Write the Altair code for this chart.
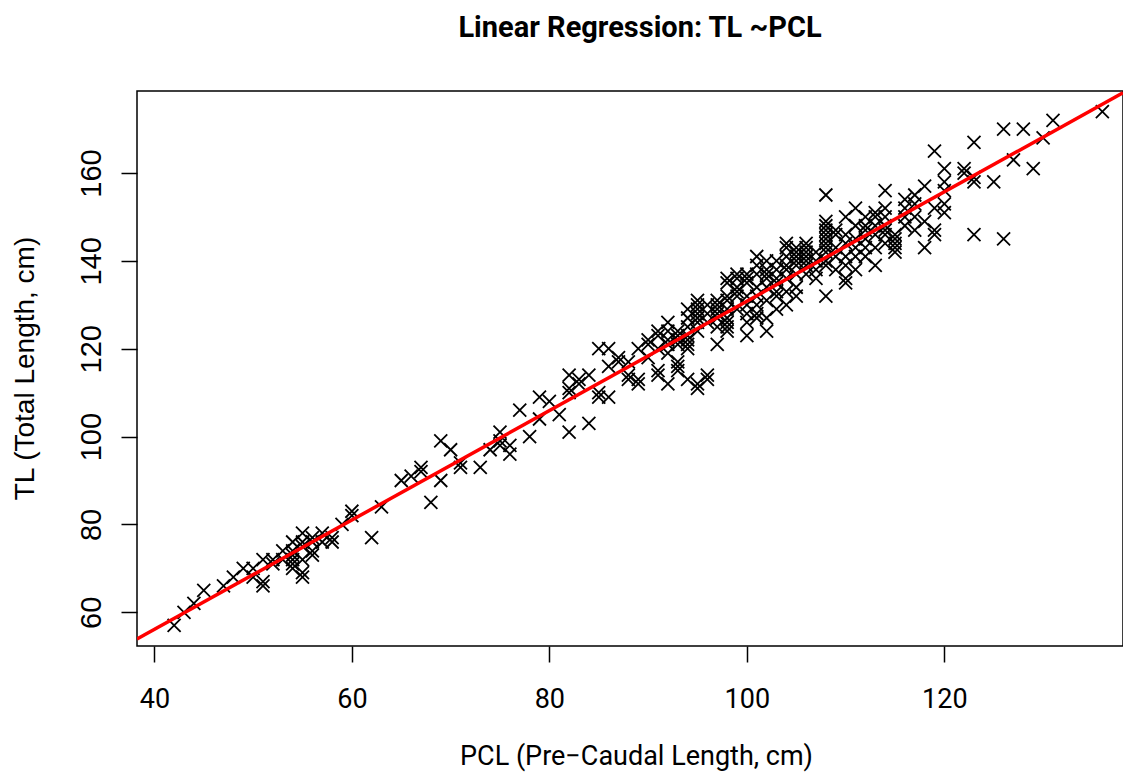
import altair as alt
import pandas as pd

pcl_levels = [42, 43, 44, 45, 47, 48, 49, 50, 51, 52, 53, 54, 55, 56, 57, 58, 59, 60,
              62, 63, 65, 66, 67, 68, 69, 70, 71, 73, 74, 75, 76, 77, 78, 79, 80, 81,
              82, 83, 84, 85, 86, 87, 88, 89, 90, 91, 92, 93, 94, 95, 96, 97, 98, 99,
              100, 101, 102, 103, 104, 105, 106, 107, 108, 109, 110, 111, 112, 113,
              114, 115, 116, 117, 118, 119, 120, 122, 123, 125, 126, 127, 128, 129,
              130, 131, 136]

tl_by_pcl = [
    [57], [60], [62], [65], [66], [68], [70], [70, 68], [67, 66, 72], [72, 71],
    [74, 72], [72, 70, 71, 76, 74, 73], [78, 75, 69, 68, 76, 72], [77, 73, 74, 76],
    [78, 76], [76, 77], [80], [83, 82],
    [77], [84], [90], [91], [93, 92], [85], [90, 99], [97], [94, 93], [93], [97],
    [101, 99, 98], [98, 96], [106], [100], [109, 104], [108], [105],
    [114, 111, 101, 110], [112, 113], [114, 103], [110, 109, 120], [109, 116, 120],
    [118, 117], [117, 114, 113], [112, 113, 120], [122, 121, 118],
    [124, 120, 115, 123, 114], [126, 121, 122, 112, 119, 124],
    [123, 122, 116, 115, 121, 124, 117], [129, 121, 113, 123, 122, 125, 127, 120],
    [131, 129, 126, 128, 111, 112, 130, 124, 127], [113, 114, 128, 126, 130],
    [130, 121, 127, 128, 129, 125, 131], [125, 124, 136, 131, 135, 132, 127, 129, 126],
    [137, 129, 132, 136, 133, 134],
    [135, 130, 128, 123, 137, 136, 132, 126], [141, 132, 128, 139, 134, 137, 130, 127],
    [137, 134, 127, 124, 138, 136, 140, 131], [135, 129, 132, 138, 136, 140, 133],
    [130, 144, 143, 133, 136, 139, 138, 141], [142, 140, 137, 134, 132, 141, 139, 143],
    [143, 142, 137, 139, 140, 141, 144], [140, 138, 142, 136],
    [155, 148, 149, 147, 146, 145, 143, 142, 140, 139, 132, 144],
    [143, 141, 146, 138, 147], [146, 150, 144, 136, 135, 141, 139],
    [138, 152, 141, 148, 145, 143], [148, 147, 143, 145, 150, 141],
    [148, 143, 139, 146, 150, 151], [152, 150, 156, 146, 148, 144, 147],
    [146, 143, 142, 145, 144], [154, 152, 148, 150], [155, 150, 147, 153],
    [157, 143, 149], [165, 147, 146, 152], [161, 158, 153, 151, 156],
    [160, 161], [159, 158, 146, 167], [158], [170, 145], [163], [170], [161],
    [168], [172], [174],
]

x_ticks = [40, 60, 80, 100, 120]
y_ticks = [60, 80, 100, 120, 140, 160]

rows = []
for p, tls in zip(pcl_levels, tl_by_pcl):
    for t in tls:
        rows.append({"PCL": p, "TL": t})
df = pd.DataFrame(rows)

x_dom = [38.24, 138.09]
y_dom = [52.32, 178.68]
x_scale = alt.Scale(domain=x_dom, zero=False, nice=False)
y_scale = alt.Scale(domain=y_dom, zero=False, nice=False)

X_SHAPE = "M-1,-1L1,1M-1,1L1,-1"

x_axis = alt.Axis(
    values=x_ticks, title="PCL (Pre\u2212Caudal Length, cm)", grid=False, domain=False,
    tickSize=16, tickWidth=1.5, tickColor="black",
    labelFont="Roboto", labelFontSize=27, labelColor="black",
    labelBaseline="alphabetic", labelPadding=45, labelFlush=False, labelOverlap=False,
    titleFont="Roboto", titleFontSize=27, titleFontWeight="normal", titleColor="black",
    titleBaseline="alphabetic", titleAlign="center", titleX=499, titleY=118,
)
y_axis = alt.Axis(
    values=y_ticks, title="TL (Total Length, cm)", grid=False, domain=False,
    tickSize=16, tickWidth=1.5, tickColor="black",
    labelFont="Liberation Sans", labelFontSize=29, labelColor="black",
    labelAngle=270, labelAlign="center", labelBaseline="alphabetic",
    labelPadding=21, labelFlush=False, labelOverlap=False,
    titleFont="Liberation Sans", titleFontSize=28, titleFontWeight="normal",
    titleColor="black", titleAngle=270, titleBaseline="alphabetic",
    titleAlign="center", titleX=-104, titleY=277,
)

points = alt.Chart(df).mark_point(
    shape=X_SHAPE, size=169, filled=False, color="black", strokeWidth=1.8, opacity=1
).encode(
    x=alt.X("PCL:Q", scale=x_scale, axis=x_axis),
    y=alt.Y("TL:Q", scale=y_scale, axis=y_axis),
)

line = alt.Chart(df).transform_regression(
    "PCL", "TL", extent=x_dom
).mark_line(color="red", strokeWidth=3.5, clip=True).encode(
    x=alt.X("PCL:Q", scale=x_scale),
    y=alt.Y("TL:Q", scale=y_scale),
)

chart = alt.layer(points, line).properties(
    width=986,
    height=555,
    autosize="none",
    background="white",
    padding={"left": 129, "top": 83, "right": 0, "bottom": 129},
    title=alt.TitleParams(
        "Linear Regression: TL ~PCL", font="Roboto", fontSize=29, fontWeight="bold",
        color="black", anchor="middle", frame="group", baseline="alphabetic",
        offset=25, dx=10,
    ),
).configure_view(stroke="black", strokeWidth=1.5)

chart.save("out.html", embed_options={"renderer": "svg", "actions": False})
